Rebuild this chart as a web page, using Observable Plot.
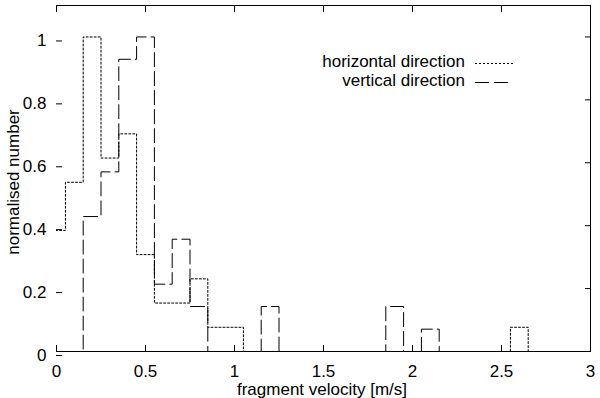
<!DOCTYPE html>
<html>
<head>
<meta charset="utf-8">
<script src="https://cdn.jsdelivr.net/npm/d3@7"></script>
<script src="https://cdn.jsdelivr.net/npm/@observablehq/plot@0.6"></script>
<style>
  html, body { margin: 0; padding: 0; background: #fff; }
  #chart svg { display: block; }
</style>
</head>
<body>
<div id="chart"></div>
<script>
// ---- data ----
const binCenters = [0.0, 0.1, 0.2, 0.3, 0.4, 0.5, 0.6, 0.7, 0.8, 0.9,
                    1.0, 1.1, 1.2, 1.3, 1.4, 1.5, 1.6, 1.7, 1.8, 1.9,
                    2.0, 2.1, 2.2, 2.3, 2.4, 2.5, 2.6, 2.7, 2.8, 2.9];
const horizontal = [0.385, 0.538, 1.0, 0.615, 0.692, 0.308, 0.154, 0.154, 0.231, 0.077,
                    0.077, 0, 0, 0, 0, 0, 0, 0, 0, 0,
                    0, 0, 0, 0, 0, 0, 0.077, 0, 0, 0];
const vertical   = [0, 0, 0.429, 0.571, 0.929, 1.0, 0.214, 0.357, 0.143, 0,
                    0, 0, 0.143, 0, 0, 0, 0, 0, 0, 0.143,
                    0, 0.071, 0, 0, 0, 0, 0, 0, 0, 0];
const binWidth = 0.1;
const xTicks = [0, 0.5, 1, 1.5, 2, 2.5, 3];
const yTicks = [0, 0.2, 0.4, 0.6, 0.8, 1];
const xDomain = [0, 3];
const yDomain = [0, 1.1];
const xLabel = "fragment velocity [m/s]";
const yLabel = "normalised number";
const seriesNames = ["horizontal direction", "vertical direction"];

// histogram steps: each bin drawn from its left edge to its right edge
function steps(values) {
  return binCenters.flatMap((c, i) => [
    {x: c - binWidth / 2, y: values[i]},
    {x: c + binWidth / 2, y: values[i]}
  ]);
}

const FONT = "'Liberation Sans', Arial, Helvetica, sans-serif";
const DOTTED = "2,2";
const DASHED = "14,5";

const chart = Plot.plot({
  width: 600,
  height: 398,
  marginLeft: 56,
  marginRight: 10,
  marginTop: 5,
  marginBottom: 47,
  style: {fontFamily: FONT, fontSize: "17px", color: "#000", background: "#fff", overflow: "visible"},
  x: {domain: xDomain, axis: null},
  y: {domain: yDomain, axis: null},
  marks: [
    Plot.line(steps(horizontal), {x: "x", y: "y", stroke: "#000", strokeWidth: 1, strokeDasharray: DOTTED, clip: true}),
    Plot.line(steps(vertical), {x: "x", y: "y", stroke: "#000", strokeWidth: 1, strokeDasharray: DASHED, clip: true}),
    // border: bottom, top, right (no left line in the reference)
    Plot.ruleY([yDomain[0]], {stroke: "#000", strokeWidth: 1}),
    Plot.ruleY([yDomain[1]], {stroke: "#000", strokeWidth: 1}),
    Plot.ruleX([xDomain[1]], {stroke: "#000", strokeWidth: 1}),
    // axes with inward ticks, mirrored
    Plot.axisX(xTicks, {anchor: "bottom", tickSize: -6, tickPadding: 19, tickFormat: d => String(d), label: null}),
    Plot.axisX(xTicks, {anchor: "top", tickSize: -6, tickFormat: () => "", label: null}),
    Plot.axisY(yTicks, {anchor: "left", tickSize: -6, tickPadding: 16, dy: 4, tickFormat: d => String(d), label: null}),
    Plot.axisY(yTicks, {anchor: "right", tickSize: -6, tickFormat: () => "", label: null})
  ]
});

document.getElementById("chart").appendChild(chart);

// axis titles and legend
const svg = d3.select(chart);
svg.append("text")
  .attr("x", 322).attr("y", 395)
  .attr("text-anchor", "middle")
  .style("font-family", FONT).style("font-size", "17px").attr("fill", "#000")
  .text(xLabel);
svg.append("text")
  .attr("transform", "translate(19,182) rotate(-90)")
  .attr("text-anchor", "middle")
  .style("font-family", FONT).style("font-size", "17px").attr("fill", "#000")
  .text(yLabel);

const legend = svg.append("g");
const dashes = [DOTTED, DASHED];
seriesNames.forEach((name, i) => {
  const baseline = 67 + i * 19;
  legend.append("text")
    .attr("x", 465).attr("y", baseline)
    .attr("text-anchor", "end")
    .style("font-family", FONT).style("font-size", "17px").attr("fill", "#000")
    .text(name);
  legend.append("line")
    .attr("x1", 475).attr("x2", i === 0 ? 513 : 511)
    .attr("y1", baseline - 3.5).attr("y2", baseline - 3.5)
    .attr("stroke", "#000").attr("stroke-width", 1)
    .attr("stroke-dasharray", dashes[i]);
});
</script>
</body>
</html>
